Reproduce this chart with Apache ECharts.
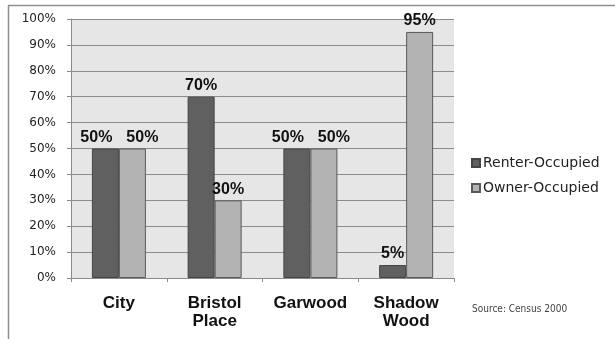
<!DOCTYPE html>
<html>
<head>
<meta charset="utf-8">
<script src="https://cdn.jsdelivr.net/npm/echarts@6/dist/echarts.min.js"></script>
<style>
  html, body { margin: 0; padding: 0; background: #fff; }
  #chart { width: 615px; height: 339px; }
</style>
</head>
<body>
<div id="chart"></div>
<script>
// Housing tenure by neighborhood (share of units)
const categories = ['City', 'Bristol\nPlace', 'Garwood', 'Shadow\nWood'];
const renterOccupied = [0.50, 0.70, 0.50, 0.05];
const ownerOccupied = [0.50, 0.30, 0.50, 0.95];
const seriesNames = ['Renter-Occupied', 'Owner-Occupied'];
const sourceNote = 'Source: Census 2000';

const chart = echarts.init(document.getElementById('chart'), null, { renderer: 'canvas' });

const pct = v => Math.round(v * 100) + '%';

const barLabel = {
  show: true,
  position: 'top',
  distance: 3,
  formatter: p => pct(p.value),
  fontFamily: 'Liberation Sans, Arial, sans-serif',
  fontWeight: 'bold',
  fontSize: 16,
  color: '#111'
};

chart.setOption({
  animation: false,
  backgroundColor: '#ffffff',
  grid: {
    left: 71, right: 161, top: 19, bottom: 61,
    show: true,
    backgroundColor: '#e6e6e6',
    borderWidth: 0
  },
  legend: {
    orient: 'vertical',
    left: 466,
    top: 151,
    itemWidth: 8,
    itemHeight: 8,
    itemGap: 11,
    icon: 'rect',
    data: seriesNames,
    textStyle: {
      fontFamily: 'DejaVu Sans, sans-serif',
      fontSize: 14,
      color: '#222',
      padding: [0, 0, 0, -2]
    }
  },
  graphic: [
    {
      type: 'line',
      shape: { x1: 8.5, y1: 5, x2: 8.5, y2: 339 },
      style: { stroke: '#8f8f8f', lineWidth: 1.5 }
    },
    {
      type: 'line',
      shape: { x1: 8, y1: 5.5, x2: 615, y2: 5.5 },
      style: { stroke: '#8f8f8f', lineWidth: 1.5 }
    },
    {
      type: 'text',
      left: 472,
      top: 304,
      style: {
        text: sourceNote,
        fontFamily: 'Liberation Sans Narrow, DejaVu Sans Condensed, sans-serif',
        fontSize: 10,
        fill: '#444'
      }
    }
  ],
  xAxis: {
    type: 'category',
    data: categories,
    axisLine: { show: true, lineStyle: { color: '#8a8a8a', width: 1 } },
    axisTick: { show: true, alignWithLabel: false, length: 4, lineStyle: { color: '#8a8a8a' } },
    axisLabel: {
      margin: 16,
      interval: 0,
      fontFamily: 'Liberation Sans, Arial, sans-serif',
      fontWeight: 'bold',
      fontSize: 17,
      lineHeight: 18,
      color: '#111'
    },
    splitLine: { show: false }
  },
  yAxis: {
    type: 'value',
    min: 0,
    max: 1,
    interval: 0.1,
    axisLine: { show: true, lineStyle: { color: '#8a8a8a', width: 1 } },
    axisTick: { show: true, length: 4, lineStyle: { color: '#8a8a8a' } },
    axisLabel: {
      margin: 15,
      formatter: v => pct(v),
      fontFamily: 'DejaVu Sans, sans-serif',
      fontSize: 12,
      color: '#222'
    },
    splitLine: { show: true, lineStyle: { color: '#8c8c8c', width: 1 } }
  },
  // Spread side-by-side labels apart when both bars in a group share the same height
  labelLayout: params => {
    const i = params.dataIndex;
    if (renterOccupied[i] === ownerOccupied[i]) {
      return { dx: params.seriesIndex === 0 ? -9 : 10 };
    }
    return {};
  },
  series: [
    {
      name: seriesNames[0],
      type: 'bar',
      data: renterOccupied,
      barWidth: 27,
      barGap: '0%',
      itemStyle: { color: '#606060', borderColor: '#454545', borderWidth: 1 },
      label: barLabel
    },
    {
      name: seriesNames[1],
      type: 'bar',
      data: ownerOccupied,
      barWidth: 27,
      barGap: '0%',
      itemStyle: { color: '#b3b3b3', borderColor: '#595959', borderWidth: 1 },
      label: barLabel
    }
  ]
});
</script>
</body>
</html>
